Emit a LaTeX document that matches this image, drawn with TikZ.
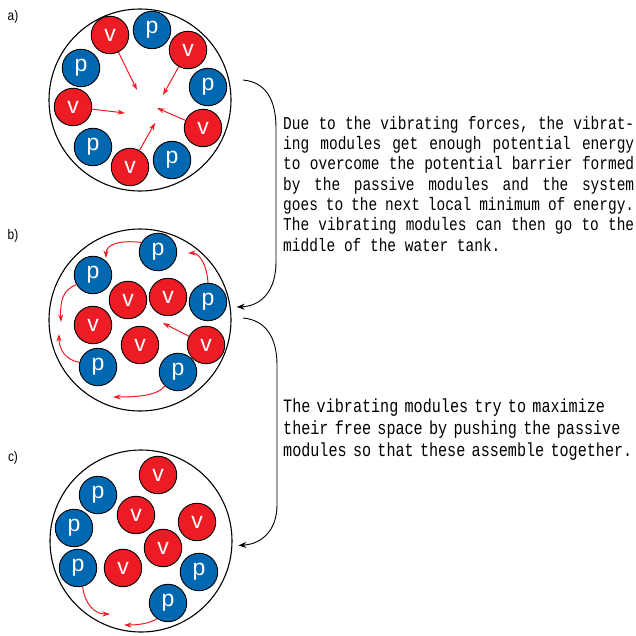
\documentclass[tikz,border=0pt]{standalone}
\usepackage{fontspec}
\usepackage{xcolor}
\usepackage{tikz}
\usetikzlibrary{arrows.meta}

\newfontfamily\descfont[FakeStretch=0.8]{Liberation Mono}
\newfontfamily\modfont{Liberation Sans}
\newfontfamily\tagfont[FakeStretch=0.85]{Liberation Sans}

\definecolor{modred}{RGB}{237,28,36}
\definecolor{modblue}{RGB}{0,103,177}

\begin{document}
\begin{tikzpicture}[
        x=1pt, y=-1pt,
        tank/.style={
            circle,
            draw=black,
            line width=1.1pt,
            minimum size=182pt,
            inner sep=0pt
        },
        pmod/.style={
            circle,
            draw=black,
            line width=0.9pt,
            fill=modblue,
            minimum size=37.5pt,
            inner sep=0pt,
            text=white,
            font=\modfont\fontsize{23}{23}\selectfont
        },
        vmod/.style={
            circle,
            draw=black,
            line width=0.9pt,
            fill=modred,
            minimum size=37.5pt,
            inner sep=0pt,
            text=white,
            font=\modfont\fontsize{23}{23}\selectfont
        },
        push/.style={-{Stealth[length=7.5pt, width=5pt]}, draw=modred, line width=1pt},
        bracket/.style={-{Stealth[length=8pt, width=6pt]}, line width=0.9pt, shorten >=6pt},
        desc/.style={
            anchor=north west,
            inner sep=0pt,
            text width=351pt,
            align=left
        },
        tag/.style={font=\tagfont\fontsize{14}{14}\selectfont}
    ]

    \useasboundingbox (0,0) rectangle (636,635);

    % a) vibrating modules pushed to the middle
    \node (labA) [tag] at (13,17) {a)};
    \node (tankA) [tank] at (140,100) {};
    \node (aV1) [vmod] at (110,35) {v};
    \node (aP1) [pmod] at (152,30) {p};
    \node (aV2) [vmod] at (188,50) {v};
    \node (aP2) [pmod] at (208,87) {p};
    \node (aV3) [vmod] at (203,128) {v};
    \node (aP3) [pmod] at (172,160) {p};
    \node (aV4) [vmod] at (130,167) {v};
    \node (aP4) [pmod] at (93,147) {p};
    \node (aV5) [vmod] at (73,107) {v};
    \node (aP5) [pmod] at (81,68) {p};

    \coordinate (aT1) at (137,90);
    \coordinate (aT2) at (163,95);
    \coordinate (aT3) at (157,108);
    \coordinate (aT4) at (155,123);
    \coordinate (aT5) at (125,113);
    \draw [push] (aV1) -- (aT1);
    \draw [push] (aV2) -- (aT2);
    \draw [push] (aV3) -- (aT3);
    \draw [push] (aV4) -- (aT4);
    \draw [push] (aV5) -- (aT5);

    % b) passive modules pushed to the border
    \node (labB) [tag] at (13,236) {b)};
    \node (tankB) [tank] at (140,320) {};
    \node (bP1) [pmod] at (158,252) {p};
    \node (bP2) [pmod] at (93,275) {p};
    \node (bV1) [vmod] at (128,300) {v};
    \node (bV2) [vmod] at (168,297) {v};
    \node (bP3) [pmod] at (208,302) {p};
    \node (bV3) [vmod] at (93,325) {v};
    \node (bV4) [vmod] at (140,345) {v};
    \node (bV5) [vmod] at (206,345) {v};
    \node (bP4) [pmod] at (98,367) {p};
    \node (bP5) [pmod] at (178,372) {p};

    \coordinate (bT1) at (188,253);
    \coordinate (bT2) at (106,258);
    \coordinate (bT3) at (61,322);
    \coordinate (bT4) at (59,334);
    \coordinate (bT5) at (113,397);
    \coordinate (bT6) at (163,323);
    \draw [push] (bP3.north) .. controls (207,266) and (200,253) .. (bT1);
    \draw [push] (bP1.150) .. controls (120,240) and (106,244) .. (bT2);
    \draw [push] (bP2.210) .. controls (63,290) and (60,300) .. (bT3);
    \draw [push] (bP4.166) .. controls (66,360) and (59,350) .. (bT4);
    \draw [push] (bP5.227) .. controls (158,395) and (140,397) .. (bT5);
    \draw [push] (bV5) -- (bT6);

    % c) passive modules assemble
    \node (labC) [tag] at (13,458) {c)};
    \node (tankC) [tank] at (141,541) {};
    \node (cV1) [vmod] at (158,475) {v};
    \node (cP1) [pmod] at (98,495) {p};
    \node (cV2) [vmod] at (136,515) {v};
    \node (cV3) [vmod] at (197,522) {v};
    \node (cP2) [pmod] at (74,528) {p};
    \node (cV4) [vmod] at (163,548) {v};
    \node (cP3) [pmod] at (78,568) {p};
    \node (cV5) [vmod] at (123,568) {v};
    \node (cP4) [pmod] at (199,572) {p};
    \node (cP5) [pmod] at (168,603) {p};

    \coordinate (cT1) at (110,614);
    \coordinate (cT2) at (124,625);
    \draw [push] (cP3.-76) .. controls (85,605) and (95,614) .. (cT1);
    \draw [push] (cP5.235) .. controls (150,623) and (140,625) .. (cT2);

    % explanations
    \coordinate (fromA) at (243,80);
    \coordinate (fromB) at (243,318);
    \draw [bracket] (fromA) .. controls (266,82) and (276,100) .. (276,128)
        -- (276,262) .. controls (276,290) and (262,306) .. (tankB.8);
    \draw [bracket] (fromB) .. controls (266,320) and (277,338) .. (277,365)
        -- (277,505) .. controls (277,530) and (262,544) .. (tankC.-3);

    \node (textAB) [desc, align=justify,
        font=\descfont\fontsize{18.1}{20.3}\selectfont] at (283,116)
        {\frenchspacing\hyphenpenalty=10000
        \spaceskip=\fontdimen2\font plus 1em minus 0.3em
        Due to the vibrating forces, the vibrat-\linebreak
        ing modules get enough potential energy\linebreak
        to overcome the potential barrier formed\linebreak
        by the passive modules and the system\linebreak
        goes to the next local minimum of energy.\linebreak
        The vibrating modules can then go to the\linebreak
        middle of the water tank.};
    \node (textBC) [desc, text width=365pt,
        font=\descfont\fontsize{18.9}{22}\selectfont] at (283,399)
        {The vibrating modules try to maximize\\
        their free space by pushing the passive\\
        modules so that these assemble together.};

    \end{tikzpicture}
\end{document}
